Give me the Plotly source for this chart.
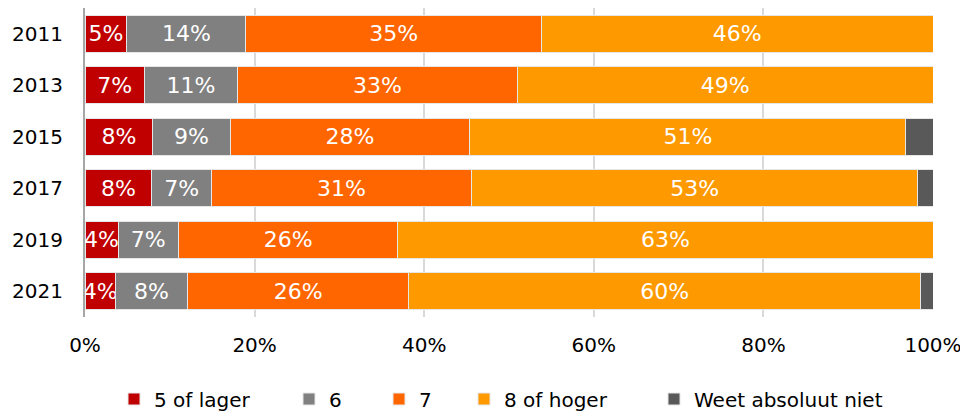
import plotly.graph_objects as go

years = ["2011", "2013", "2015", "2017", "2019", "2021"]
series_names = ["5 of lager", "6", "7", "8 of hoger", "Weet absoluut niet"]
v_5_of_lager = [4.95, 7.0, 8.0, 7.9, 3.9, 3.6]
v_6 = [14.0, 11.0, 9.1, 7.0, 7.1, 8.5]
v_7 = [34.9, 33.0, 28.3, 30.7, 25.9, 26.1]
v_8_of_hoger = [46.15, 49.0, 51.4, 52.6, 63.1, 60.3]
v_weet_niet = [0.0, 0.0, 3.2, 1.8, 0.0, 1.5]
tick_vals = [0, 20, 40, 60, 80, 100]
tick_text = ["0%", "20%", "40%", "60%", "80%", "100%"]

colors = ["#C00000", "#808080", "#FF6600", "#FF9900", "#595959"]
all_values = [v_5_of_lager, v_6, v_7, v_8_of_hoger, v_weet_niet]
show_labels = [True, True, True, True, False]

# page has an 8px body margin: figure is offset by 8px
W, H = 960, 404
OFF = 8
PLOT_L, PLOT_R = 85, 933  # screen px
legend_marker_centers = [134, 309, 399, 484, 674]  # screen px
SYM_OFF = 20

FONT = "DejaVu Sans"
fig = go.Figure()
legend_ids = ["legend", "legend2", "legend3", "legend4", "legend5"]
for name, vals, col, lab, lid in zip(series_names, all_values, colors, show_labels, legend_ids):
    txt = [f"{round(v)}%" if (lab and v > 0) else "" for v in vals]
    fig.add_trace(go.Bar(
        y=years, x=vals, name=name, orientation="h",
        marker=dict(color=col, line=dict(color="#e6e6e6", width=1)),
        text=txt, textposition="inside", insidetextanchor="middle",
        textangle=0,
        textfont=dict(color="white", size=22, family=FONT),
        hoverinfo="skip",
        cliponaxis=False,
        legend=lid,
    ))

layout_legends = {}
for lid, cx in zip(legend_ids, legend_marker_centers):
    px = (cx - SYM_OFF - PLOT_L) / (PLOT_R - PLOT_L)
    layout_legends[lid] = dict(
        orientation="h", x=px, xanchor="left", xref="paper",
        y=13 / H, yanchor="middle", yref="container",
        font=dict(size=20, family=FONT, color="black"),
        itemwidth=30, bgcolor="rgba(0,0,0,0)",
    )

fig.update_layout(
    barmode="stack",
    bargap=0.28,
    width=W, height=H,
    margin=dict(l=PLOT_L - OFF, r=968 - PLOT_R, t=0, b=412 - 317, autoexpand=False),
    paper_bgcolor="white", plot_bgcolor="white",
    font=dict(family=FONT, size=20, color="black"),
    uniformtext=dict(minsize=22, mode="show"),
    showlegend=True,
    **layout_legends,
)
fig.update_xaxes(
    range=[0, 100], tickvals=tick_vals, ticktext=tick_text,
    showgrid=True, gridcolor="#d9d9d9", gridwidth=2,
    zeroline=False, showline=False, ticks="",
    ticklabelstandoff=14, automargin=False,
    tickfont=dict(size=20, family=FONT, color="black"),
)
fig.update_yaxes(
    categoryorder="array", categoryarray=years, autorange="reversed",
    showline=True, linecolor="#a6a6a6", linewidth=2,
    showgrid=False, ticks="", ticklabelstandoff=16, automargin=False,
    tickfont=dict(size=20, family=FONT, color="black"),
)
fig.write_html("out.html")
